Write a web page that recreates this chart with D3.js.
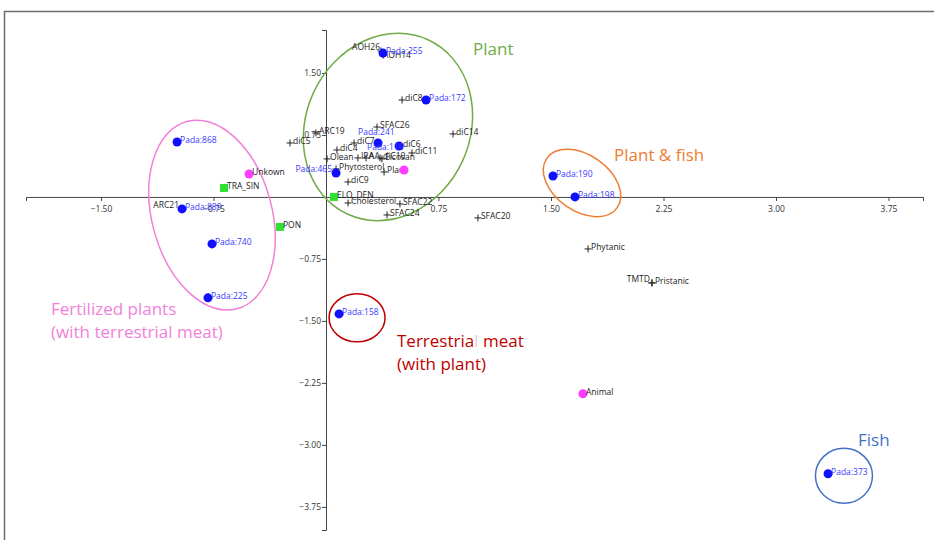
<!DOCTYPE html>
<html>
<head>
<meta charset="utf-8">
<script src="https://cdn.jsdelivr.net/npm/d3@7/dist/d3.min.js"></script>
<style>
  html, body { margin: 0; padding: 0; background: #fff; }
  svg { display: block; }
  text { font-family: "Open Sans", "Noto Sans", sans-serif; }
</style>
</head>
<body>
<svg id="chart" width="934" height="540"></svg>
<script>
// ---- Samples (blue dots) ----
const sampleNames = ["Pada:255", "Pada:172", "Pada:241", "Pada:116", "Pada:465", "Pada:868",
  "Pada:889", "Pada:740", "Pada:225", "Pada:158", "Pada:190", "Pada:198", "Pada:373"];
const sampleX = [0.38, 0.667, 0.347, 0.487, 0.067, -0.993, -0.96, -0.76, -0.787, 0.087, 1.513, 1.66, 3.347];
const sampleY = [1.741, 1.173, 0.653, 0.617, 0.29, 0.665, -0.145, -0.568, -1.221, -1.415, 0.254, 0.0, -3.349];

// ---- Reference classes (magenta dots) ----
const classNames = ["Unkown", "Plant", "Animal"];
const classX = [-0.513, 0.52, 1.713];
const classY = [0.278, 0.326, -2.382];

// ---- Source markers (green squares) ----
const sourceNames = ["TRA_SIN", "ELO_DEN", "PON"];
const sourceX = [-0.68, 0.053, -0.307];
const sourceY = [0.109, 0.0, -0.363];

// ---- Variables (crosses) ----
const varNames = ["AOH26", "AOH14", "diC8", "SFAC26", "ARC19", "diC5", "diC7", "diC4", "diC6",
  "diC11", "diC14", "Olean", "IPA", "AA", "diC10", "Eicosan", "Phytosterol", "Plant", "diC9",
  "Cholesterol", "SFAC22", "SFAC24", "SFAC20", "Phytanic", "Pristanic", "TMTD", "ARC21"];
const varX = [0.367, 0.38, 0.507, 0.34, -0.067, -0.24, 0.187, 0.073, 0.493,
  0.573, 0.847, 0.007, 0.213, 0.267, 0.36, 0.373, 0.067, 0.387, 0.147,
  0.147, 0.493, 0.407, 1.013, 1.747, 2.173, 2.173, -0.96];
const varY = [1.765, 1.717, 1.173, 0.846, 0.774, 0.653, 0.653, 0.568, 0.617,
  0.532, 0.762, 0.46, 0.472, 0.472, 0.472, 0.46, 0.339, 0.302, 0.181,
  -0.073, -0.085, -0.218, -0.254, -0.629, -1.04, -1.04, -0.145];

// ---- Axis ticks ----
const xTicks = [-1.5, -0.75, 0.75, 1.5, 2.25, 3.0, 3.75];
const yTicks = [1.5, 0.75, -0.75, -1.5, -2.25, -3.0, -3.75];

// ---- Group annotations (each caption line split into parts; faint parts drawn light) ----
const groupLines = [
  [["Plant"]],
  [["Plant & fish"]],
  [["Fish"]],
  [["Terrestria", "l", " meat"], ["(with plant)"]],
  [["Fertilized plants"], ["(with terrestrial meat)"]]
];
const groupCX = [0.413, 1.707, 3.453, 0.207, -0.76];
const groupCY = [0.846, 0.169, -3.374, -1.463, -0.22];

// layout of the group outlines and captions (pixels)
const groupStyle = [
  { color: "#6fac46", rx: 82, ry: 96, rot: 25, tx: 473, ty: 55 },
  { color: "#ee7d31", rx: 43, ry: 28, rot: 35, tx: 614, ty: 161 },
  { color: "#4472c4", rx: 28.5, ry: 27.5, rot: 0, tx: 858, ty: 446 },
  { color: "#c00000", rx: 28, ry: 24, rot: 0, tx: 397, ty: 347 },
  { color: "#f27fd9", rx: 60, ry: 97, rot: -15, tx: 51, ty: 315 }
];

// label placement tweaks: [dx, dy, anchor]
const labelShift = {
  "Pada:241": [-20, -8, "start"],
  "Pada:116": [-32, 4, "start"],
  "Pada:465": [-4, -1, "end"],
  "AOH26": [-1, -1, "end"],
  "AOH14": [0, 3, "start"],
  "ARC21": [-3, -1, "end"],
  "TMTD": [-2, -1, "end"]
};
const hiddenLabels = new Set(["class:Plant"]);

const width = 934, height = 540;
const svg = d3.select("#chart");

const x = d3.scaleLinear().domain([-2, 3.98]).range([26, 923]);
const y = d3.scaleLinear().domain([-4.03, 2.02]).range([530, 30]);

// outer frame
svg.append("rect")
  .attr("x", 4.5).attr("y", 11.5)
  .attr("width", width + 10).attr("height", height + 10)
  .attr("fill", "none").attr("stroke", "#6b6b6b").attr("stroke-width", 1.5);

// axes through the origin
const xAxis = d3.axisBottom(x).tickValues(xTicks).tickSize(4)
  .tickFormat(d3.format(".2f"));
const yAxis = d3.axisLeft(y).tickValues(yTicks).tickSize(4)
  .tickFormat(d3.format(".2f"));

const gx = svg.append("g").attr("transform", `translate(0,${y(0)})`).call(xAxis);
const gy = svg.append("g").attr("transform", `translate(${x(0)},0)`).call(yAxis);
[gx, gy].forEach(g => {
  g.select(".domain").attr("stroke", "#444").attr("stroke-width", 1);
  g.selectAll(".tick line").attr("stroke", "#444");
  g.selectAll(".tick text").attr("fill", "#333")
    .style("font-size", "8.5px").style("font-family", "'Open Sans', sans-serif");
});
gx.selectAll(".tick text").attr("dy", "0.9em");
gy.selectAll(".tick text").attr("x", -5);

// group outlines
const groups = groupLines.map((lines, i) => ({
  lines, cx: groupCX[i], cy: groupCY[i], ...groupStyle[i]
}));
svg.append("g").selectAll("ellipse").data(groups).join("ellipse")
  .attr("transform", d => `translate(${x(d.cx)},${y(d.cy)}) rotate(${d.rot})`)
  .attr("rx", d => d.rx).attr("ry", d => d.ry)
  .attr("fill", "none").attr("stroke", d => d.color).attr("stroke-width", 1.5);

// group captions
groups.forEach(g => {
  g.lines.forEach((parts, li) => {
    const t = svg.append("text")
      .attr("x", g.tx).attr("y", g.ty + li * 23)
      .attr("fill", g.color)
      .style("font-size", "17px");
    parts.forEach((p, pi) => {
      t.append("tspan").text(p)
        .attr("fill-opacity", parts.length === 3 && pi === 1 ? 0.25 : 1);
    });
  });
});

// helper for point labels
function label(g, items, color, key) {
  g.selectAll("text.lbl").data(items.filter(d => !hiddenLabels.has(key + d.name)))
    .join("text").attr("class", "lbl")
    .attr("x", d => x(d.x) + (labelShift[d.name] ? labelShift[d.name][0] : 3))
    .attr("y", d => y(d.y) + (labelShift[d.name] ? labelShift[d.name][1] : 1))
    .attr("text-anchor", d => labelShift[d.name] ? labelShift[d.name][2] : "start")
    .attr("fill", color)
    .style("font-size", "8.5px")
    .text(d => d.name);
}

// variables
const vars = varNames.map((n, i) => ({ name: n, x: varX[i], y: varY[i] }));
const gv = svg.append("g");
gv.selectAll("path").data(vars).join("path")
  .attr("transform", d => `translate(${x(d.x)},${y(d.y)})`)
  .attr("d", "M-3.5,0H3.5M0,-3.5V3.5")
  .attr("stroke", "#222").attr("stroke-width", 1).attr("fill", "none");
label(gv, vars, "#222", "var:");

// green sources
const sources = sourceNames.map((n, i) => ({ name: n, x: sourceX[i], y: sourceY[i] }));
const gs = svg.append("g");
gs.selectAll("rect").data(sources).join("rect")
  .attr("x", d => x(d.x) - 4).attr("y", d => y(d.y) - 4)
  .attr("width", 8).attr("height", 8).attr("fill", "#30e030");
label(gs, sources, "#222", "src:");

// magenta classes
const classes = classNames.map((n, i) => ({ name: n, x: classX[i], y: classY[i] }));
const gc = svg.append("g");
gc.selectAll("circle").data(classes).join("circle")
  .attr("cx", d => x(d.x)).attr("cy", d => y(d.y)).attr("r", 4.5)
  .attr("fill", "#ff3cff");
label(gc, classes, "#222", "class:");

// blue samples
const samples = sampleNames.map((n, i) => ({ name: n, x: sampleX[i], y: sampleY[i] }));
const gp = svg.append("g");
gp.selectAll("circle").data(samples).join("circle")
  .attr("cx", d => x(d.x)).attr("cy", d => y(d.y)).attr("r", 4.5)
  .attr("fill", "#1010ff");
label(gp, samples, "#3a3aff", "sample:");
</script>
</body>
</html>
